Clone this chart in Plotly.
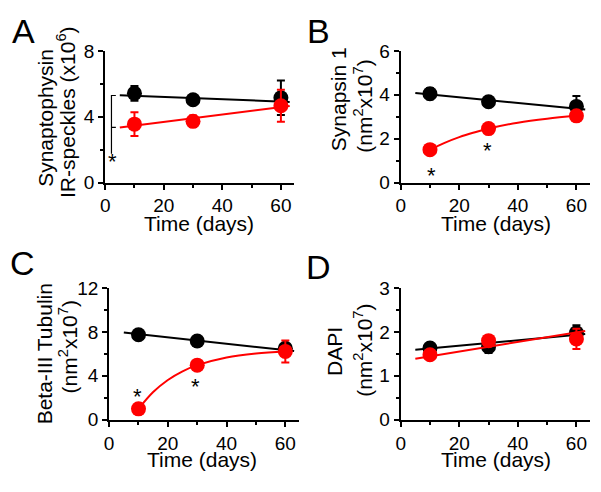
import plotly.graph_objects as go

# ---------------- data ----------------
days = [10, 30, 60]

# Panel A: Synaptophysin IR-speckles (x10^6)
a_black = [5.42, 5.03, 5.15]
a_black_err = [0.45, 0.2, 1.05]
a_red = [3.55, 3.72, 4.67]
a_red_err = [0.72, 0.35, 0.97]
a_fit_x = [5, 63]
a_black_fit = [5.30, 4.90]
a_red_fit = [3.35, 4.65]

# Panel B: Synapsin 1 (nm^2 x10^7)
b_black = [4.05, 3.68, 3.47]
b_black_err = [0.25, 0.2, 0.48]
b_red = [1.50, 2.46, 3.04]
b_red_err = [0.1, 0.1, 0.1]
b_fit_x = [5, 63]
b_black_fit = [4.08, 3.33]
b_red_curve_x = [10, 15, 20, 25, 30, 40, 50, 60]
b_red_curve = [1.50, 1.81, 2.07, 2.28, 2.46, 2.73, 2.91, 3.04]

# Panel C: Beta-III Tubulin (nm^2 x10^7)
c_black = [7.73, 7.17, 6.51]
c_black_err = [0.3, 0.3, 0.3]
c_red = [0.99, 4.97, 6.22]
c_red_err = [0.3, 0.3, 1.0]
c_fit_x = [5, 63]
c_black_fit = [7.95, 6.25]
c_red_curve_x = [10, 15, 20, 25, 30, 40, 50, 60]
c_red_curve = [0.99, 2.52, 3.62, 4.41, 4.97, 5.67, 6.03, 6.22]

# Panel D: DAPI (nm^2 x10^7)
d_black = [1.63, 1.66, 1.98]
d_black_err = [0.05, 0.14, 0.17]
d_red = [1.48, 1.80, 1.84]
d_red_err = [0.05, 0.05, 0.23]
d_fit_x = [5, 63]
d_black_fit = [1.59, 1.95]
d_red_fit = [1.39, 2.02]

x_ticks = [0, 20, 40, 60]
FONT = "Liberation Sans, Arial, sans-serif"
RED = "#ff0000"
W, H = 601, 492
TICK_SIZE = 19

fig = go.Figure()

panels = {
    "A": dict(x0=101, x1=291.5, y0=42.7, y1=180.3, yr=[0, 8], yt=[0, 4, 8], ym=2),
    "B": dict(x0=399, x1=589.5, y0=42.7, y1=180.3, yr=[0, 6], yt=[0, 2, 4, 6], ym=1),
    "C": dict(x0=105, x1=296, y0=290.3, y1=428, yr=[0, 12], yt=[0, 4, 8, 12], ym=2),
    "D": dict(x0=399, x1=589.5, y0=290.3, y1=428, yr=[0, 3], yt=[0, 1, 2, 3], ym=0.5),
}
names = ["A", "B", "C", "D"]

layout = dict(
    width=W, height=H, margin=dict(l=0, r=0, t=0, b=0),
    paper_bgcolor="white", plot_bgcolor="white", showlegend=False,
    font=dict(family=FONT, color="black", size=TICK_SIZE),
)
for i, n in enumerate(names):
    p = panels[n]
    sfx = "" if i == 0 else str(i + 1)
    layout["xaxis" + sfx] = dict(
        domain=[p["x0"] / W, p["x1"] / W], range=[0, 64.5], anchor="y" + sfx,
        showline=True, linecolor="black", linewidth=2, showgrid=False, zeroline=False,
        ticks="outside", ticklen=5, tickwidth=2, tickcolor="black",
        tickvals=x_ticks, tickfont=dict(size=TICK_SIZE, family=FONT),
        minor=dict(ticks="outside", ticklen=3, tickwidth=1.5, tickcolor="black", dtick=10, tick0=0),
        fixedrange=True,
    )
    layout["yaxis" + sfx] = dict(
        domain=[1 - p["y1"] / H, 1 - p["y0"] / H], range=p["yr"], anchor="x" + sfx,
        showline=True, linecolor="black", linewidth=2, showgrid=False, zeroline=False,
        ticks="outside", ticklen=5, tickwidth=2, tickcolor="black",
        tickvals=p["yt"], tickfont=dict(size=TICK_SIZE, family=FONT),
        minor=dict(ticks="outside", ticklen=3, tickwidth=1.5, tickcolor="black",
                   dtick=p["ym"], tick0=0),
        fixedrange=True,
    )
fig.update_layout(**layout)


def add_line(x, y, color, k, shape="linear"):
    xa = "x" if k == 0 else "x" + str(k + 1)
    ya = "y" if k == 0 else "y" + str(k + 1)
    fig.add_trace(go.Scatter(x=x, y=y, mode="lines", xaxis=xa, yaxis=ya,
                             line=dict(color=color, width=2, shape=shape),
                             hoverinfo="skip"))


def add_pts(y, err, color, k):
    xa = "x" if k == 0 else "x" + str(k + 1)
    ya = "y" if k == 0 else "y" + str(k + 1)
    fig.add_trace(go.Scatter(x=days, y=y, mode="markers", xaxis=xa, yaxis=ya,
                             marker=dict(color=color, size=15, line=dict(width=0)),
                             error_y=dict(type="data", array=err, visible=True,
                                          color=color, thickness=2, width=4)))


# Panel A
add_line(a_fit_x, a_black_fit, "black", 0)
add_pts(a_black, a_black_err, "black", 0)
add_line(a_fit_x, a_red_fit, RED, 0)
add_pts(a_red, a_red_err, RED, 0)
# significance bracket in A
fig.add_trace(go.Scatter(x=[3.65, 2.15, 2.15, None, 2.15, 3.65],
                         y=[5.29, 5.29, 1.76, None, 3.35, 3.35],
                         mode="lines", line=dict(color="black", width=1.2),
                         xaxis="x", yaxis="y", hoverinfo="skip"))

# Panel B
add_line(b_fit_x, b_black_fit, "black", 1)
add_pts(b_black, b_black_err, "black", 1)
add_line(b_red_curve_x, b_red_curve, RED, 1, shape="spline")
add_pts(b_red, b_red_err, RED, 1)

# Panel C
add_line(c_fit_x, c_black_fit, "black", 2)
add_pts(c_black, c_black_err, "black", 2)
add_line(c_red_curve_x, c_red_curve, RED, 2, shape="spline")
add_pts(c_red, c_red_err, RED, 2)

# Panel D
add_line(d_fit_x, d_black_fit, "black", 3)
add_pts(d_black, d_black_err, "black", 3)
add_line(d_fit_x, d_red_fit, RED, 3)
add_pts(d_red, d_red_err, RED, 3)

ann = []


def pa(text, px, py, size, angle=0):
    ann.append(dict(text=text, x=px / W, y=1 - py / H, xref="paper", yref="paper",
                    showarrow=False, xanchor="center", yanchor="middle",
                    textangle=angle, font=dict(size=size, family=FONT, color="black")))


# panel letters
pa("A", 19, 22, 34)
pa("B", 316, 22, 34)
pa("C", 18, 264, 34)
pa("D", 316, 268, 34)

# y-axis titles (two lines each)
pa("Synaptophysin", 41, 113, 21, -90)
pa("IR-speckles (x10<sup>6</sup>)", 62, 106, 21, -90)
pa("Synapsin 1", 336, 93, 21, -90)
pa("(nm<sup>2</sup>x10<sup>7</sup>)", 361, 100, 21, -90)
pa("Beta-III Tubulin", 40, 359, 21, -90)
pa("(nm<sup>2</sup>x10<sup>7</sup>)", 64, 352, 21, -90)
pa("DAPI", 333, 357, 21, -90)
pa("(nm<sup>2</sup>x10<sup>7</sup>)", 361, 355, 21, -90)

# x-axis titles
pa("Time (days)", 196, 222.5, 21)
pa("Time (days)", 495, 222.5, 21)
pa("Time (days)", 199, 469.5, 21)
pa("Time (days)", 495, 469.5, 21)


def star(x, y, k):
    xa = "x" if k == 0 else "x" + str(k + 1)
    ya = "y" if k == 0 else "y" + str(k + 1)
    ann.append(dict(text="*", x=x, y=y, xref=xa, yref=ya, showarrow=False,
                    xanchor="center", yanchor="middle",
                    font=dict(size=22, family=FONT, color="black")))


star(2.5, 1.31, 0)
star(10.4, 0.33, 1)
star(29.6, 1.46, 1)
star(9.55, 2.09, 2)
star(29.5, 3.02, 2)

fig.update_layout(annotations=ann)

fig.write_html("out.html", post_script="document.body.style.margin='0';",
               config={"displayModeBar": False})
